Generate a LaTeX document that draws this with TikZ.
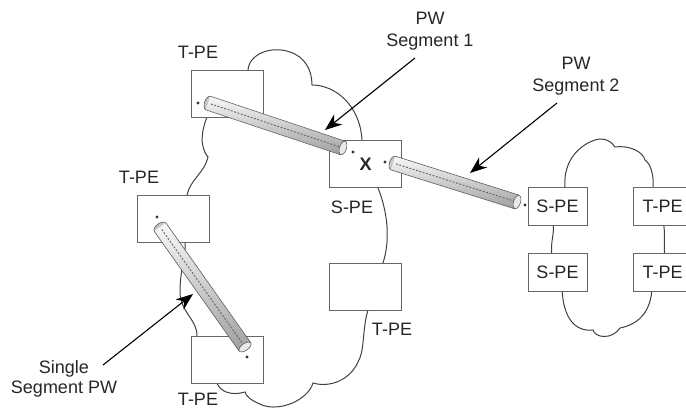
\documentclass[tikz,border=0pt]{standalone}
\usepackage{fontspec}
\setmainfont{Liberation Sans}
\usetikzlibrary{arrows.meta, calc, shapes.geometric}
\newcommand{\lblfont}{\fontsize{18}{22}\selectfont}
% pseudowire tube from #2 to #3, body named #1
\newcommand{\pwtube}[3]{%
  \path let \p1=($(#3)-(#2)$), \n1={atan2(\y1,\x1)}, \n2={veclen(\x1,\y1)} in
    node[tubecap, rotate=\n1] (#1s) at (#2) {}
    node[tubebody, minimum width=\n2, rotate=\n1] (#1) at ($(#2)!0.5!(#3)$) {};
  \draw[tubeedge] (#1.north west) -- (#1.north east) (#1.south west) -- (#1.south east);
  \draw[tubecore] (#2) -- (#3);
  \path let \p1=($(#3)-(#2)$), \n1={atan2(\y1,\x1)} in
    node[tubeend, rotate=\n1] (#1e) at (#3) {};}

\begin{document}
\begin{tikzpicture}[
  x=1pt, y=-1pt,
  font=\lblfont,
  >=Stealth,
  cloudline/.style={draw=black!75, line width=1pt},
  pebox/.style={draw=black!60, line width=0.9pt, fill=white, inner sep=0pt,
                minimum width=72pt, minimum height=47pt, text=black!85},
  smallbox/.style={pebox, minimum width=59pt, minimum height=38pt},
  lbl/.style={align=center, inner sep=0pt, text=black!85},
  pwdot/.style={circle, fill=black!80, inner sep=1.1pt},
  tubebody/.style={rectangle, inner sep=0pt, minimum height=14pt,
                   top color=gray!5, middle color=gray!40, bottom color=gray!75},
  tubecap/.style={ellipse, inner sep=0pt, minimum width=7pt, minimum height=14pt,
                  fill=gray!45, draw=black!65, line width=0.6pt},
  tubeend/.style={tubecap, fill=gray!18},
  tubeedge/.style={draw=black!65, line width=0.6pt},
  tubecore/.style={draw=black!60, line width=0.9pt, dash pattern=on 2pt off 1.5pt,
                   shorten <=3pt, shorten >=4pt},
  ptr/.style={-{Stealth[length=17pt, width=13pt]}, line width=1.1pt, black},
]
  \useasboundingbox (0,0) rectangle (686,411);
  % big cloud
  \draw[cloudline] (248,80) -- (248,71)
    .. controls (248,55) and (270,45) .. (290,52)
    .. controls (305,57) and (312,70) .. (312,85)
    .. controls (335,85) and (360,105) .. (362,140)
    -- (376,180) -- (378,188)
    .. controls (385,205) and (392,235) .. (383,263)
    -- (370,300) -- (368,310)
    .. controls (362,330) and (365,350) .. (358,362)
    .. controls (350,380) and (330,388) .. (313,383)
    .. controls (308,400) and (280,412) .. (262,405)
    .. controls (250,400) and (246,396) .. (245,392)
    .. controls (232,396) and (220,392) .. (217,383)
    -- (197,345) -- (197,337)
    .. controls (198,320) and (180,312) .. (180,292)
    .. controls (180,270) and (186,255) .. (185,243)
    -- (187,200) -- (187,195)
    .. controls (190,180) and (205,172) .. (208,157)
    .. controls (198,145) and (203,127) .. (207,117)
    -- cycle;
  % small cloud
  \draw[cloudline] (565,200) -- (565,187)
    .. controls (563,160) and (580,145) .. (595,140)
    .. controls (605,137) and (612,142) .. (615,147)
    .. controls (630,145) and (643,152) .. (645,160)
    .. controls (652,165) and (654,178) .. (653,190)
    -- (663,220) .. controls (666,235) and (663,245) .. (665,256)
    -- (652,285) .. controls (652,315) and (635,325) .. (620,328)
    .. controls (612,340) and (595,338) .. (593,330)
    .. controls (575,332) and (563,318) .. (562,288)
    -- (552,256) .. controls (550,240) and (555,235) .. (553,222)
    -- cycle;
  % provider edge boxes
  \node[pebox] (t1) at (227,94) {};
  \node[pebox] (s1) at (365.5,164) {\bfseries X};
  \node[pebox] (t2) at (173.5,219) {};
  \node[pebox] (t3) at (227.5,360) {};
  \node[pebox] (t4) at (365.5,286.5) {};
  \node[smallbox] (s2) at (557.5,206) {S-PE};
  \node[smallbox] (s3) at (557.5,272) {S-PE};
  \node[smallbox] (t5) at (662.5,206) {T-PE};
  \node[smallbox] (t6) at (662.5,272) {T-PE};
  % box labels
  \node[lbl] (t1l) at (198,52) {T-PE};
  \node[lbl] (t2l) at (139,177) {T-PE};
  \node[lbl] (t3l) at (198,399) {T-PE};
  \node[lbl] (s1l) at (352,207) {S-PE};
  \node[lbl] (t4l) at (392,329) {T-PE};
  % attachment points
  \node[pwdot] (d1) at (198,103) {};
  \node[pwdot] (d2) at (353,152) {};
  \node[pwdot] (d3) at (385,162) {};
  \node[pwdot] (d4) at (525,205) {};
  \node[pwdot] (d5) at (157,217) {};
  \node[pwdot] (d6) at (247,357) {};
  % pseudowires
  \coordinate (a1) at (208,103);
  \coordinate (b1) at (343,148);
  \coordinate (a2) at (393,163);
  \coordinate (b2) at (517,202);
  \coordinate (a3) at (160,227);
  \coordinate (b3) at (245,347);
  \pwtube{pw1}{a1}{b1}
  \pwtube{pw2}{a2}{b2}
  \pwtube{pw3}{a3}{b3}
  % callouts
  \node[lbl, font=\fontsize{18}{22}\selectfont] (seg1) at (430,31) {PW\\Segment 1};
  \node[lbl, font=\fontsize{18}{22}\selectfont] (seg2) at (576,76) {PW\\Segment 2};
  \node[lbl, font=\fontsize{18}{20}\selectfont] (single) at (64,379) {Single\\Segment PW};
  \coordinate (seg1tail) at (415,58);
  \coordinate (seg1tip) at (325,130);
  \coordinate (seg2tail) at (557,103);
  \coordinate (seg2tip) at (470,173);
  \coordinate (singletail) at (103,365);
  \coordinate (singletip) at (193,294);
  \draw[ptr] (seg1tail) -- (seg1tip);
  \draw[ptr] (seg2tail) -- (seg2tip);
  \draw[ptr] (singletail) -- (singletip);
\end{tikzpicture}
\end{document}
